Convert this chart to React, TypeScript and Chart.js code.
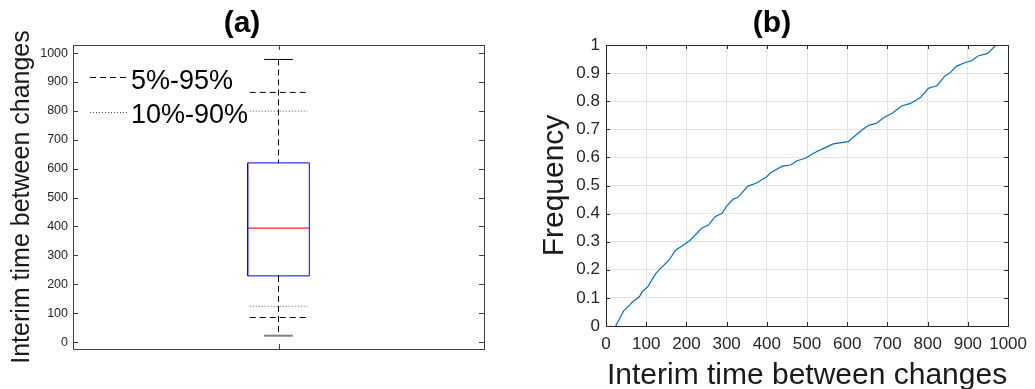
import React, { useEffect, useRef } from 'react';
import { Chart, registerables } from 'chart.js';

Chart.register(...registerables);

// ---------- data ----------
const boxCategories = [1];
const whiskerMin = [22];
const p5 = [85];
const p10 = [124];
const q1 = [229];
const median = [394];
const q3 = [620];
const p90 = [799];
const p95 = [864];
const whiskerMax = [978];

const leftYTicks = [0, 100, 200, 300, 400, 500, 600, 700, 800, 900, 1000];
const rightXTicks = [0, 100, 200, 300, 400, 500, 600, 700, 800, 900, 1000];
const rightYTicks = [0, 0.1, 0.2, 0.3, 0.4, 0.5, 0.6, 0.7, 0.8, 0.9, 1];

const cdfX = [24, 44, 55, 67, 83, 90, 104, 124, 140, 157, 173, 189, 210, 238, 255, 271, 289, 300, 316, 328, 353, 373, 398, 410, 439, 459, 475, 496, 516, 541, 565, 602, 627, 639, 655, 672, 692, 712, 735, 757, 782, 802, 823, 843, 855, 872, 892, 909, 925, 949, 970];
const cdfY = [0, 0.054, 0.069, 0.087, 0.104, 0.122, 0.14, 0.187, 0.211, 0.235, 0.27, 0.285, 0.306, 0.348, 0.359, 0.389, 0.401, 0.427, 0.451, 0.458, 0.498, 0.508, 0.529, 0.546, 0.569, 0.573, 0.588, 0.597, 0.615, 0.632, 0.648, 0.656, 0.686, 0.7, 0.715, 0.721, 0.743, 0.757, 0.783, 0.792, 0.813, 0.846, 0.855, 0.89, 0.9, 0.925, 0.937, 0.944, 0.961, 0.97, 1.0];

const legendLabels = ['5%-95%', '10%-90%'];
const panelTitles = ['(a)', '(b)'];
const leftYTitle = 'Interim time between changes';
const rightXTitle = 'Interim time between changes';
const rightYTitle = 'Frequency';

// ---------- styling ----------
const FONT = "'Liberation Sans', Arial, Helvetica, sans-serif";
const AXIS_COLOR = '#262626';
const BOX_HALF = 0.075;
const CAP_HALF = 0.035;
const PCT_HALF = 0.07;

Chart.defaults.font.family = FONT;

const plainLabel = (v: any) => String(v);

const frameTicks = (len: number, color: string) => ({
  id: 'frameTicks',
  afterDatasetsDraw(chart: any) {
    const { ctx, chartArea: a, scales } = chart;
    const xs = scales.x;
    const ys = scales.y;
    ctx.save();
    ctx.strokeStyle = color;
    ctx.lineWidth = 1;
    ctx.setLineDash([]);
    ctx.beginPath();
    ys.ticks.forEach((t: any) => {
      const y = Math.round(ys.getPixelForValue(t.value)) + 0.5;
      ctx.moveTo(a.left, y);
      ctx.lineTo(a.left + len, y);
      ctx.moveTo(a.right, y);
      ctx.lineTo(a.right - len, y);
    });
    xs.ticks.forEach((t: any) => {
      const x = Math.round(xs.getPixelForValue(t.value)) + 0.5;
      ctx.moveTo(x, a.bottom);
      ctx.lineTo(x, a.bottom - len);
      ctx.moveTo(x, a.top);
      ctx.lineTo(x, a.top + len);
    });
    ctx.stroke();
    ctx.strokeRect(Math.round(a.left) + 0.5, Math.round(a.top) + 0.5, Math.round(a.right - a.left), Math.round(a.bottom - a.top));
    ctx.restore();
  },
});

const legendPlugin = {
  id: 'pctLegend',
  afterDatasetsDraw(chart: any) {
    const { ctx, chartArea: a } = chart;
    const items = [
      { label: legendLabels[0], dash: [6, 4], color: '#000', ly: 32, ty: 44 },
      { label: legendLabels[1], dash: [1, 2], color: '#555', ly: 67, ty: 78 },
    ];
    ctx.save();
    items.forEach((it) => {
      ctx.strokeStyle = it.color;
      ctx.lineWidth = 1;
      ctx.setLineDash(it.dash);
      ctx.beginPath();
      ctx.moveTo(a.left + 17, a.top + it.ly + 0.5);
      ctx.lineTo(a.left + 55, a.top + it.ly + 0.5);
      ctx.stroke();
      ctx.setLineDash([]);
      ctx.fillStyle = '#000';
      ctx.font = `27px ${FONT}`;
      ctx.textAlign = 'left';
      ctx.textBaseline = 'alphabetic';
      ctx.fillText(it.label, a.left + 58, a.top + it.ty);
    });
    ctx.restore();
  },
};

function seg(y: number, half: number) {
  const c = boxCategories[0];
  return [{ x: c - half, y }, { x: c + half, y }];
}

function leftConfig(): any {
  const c = boxCategories[0];
  const base = { pointRadius: 0, borderWidth: 1, fill: false, tension: 0 };
  return {
    type: 'line',
    data: {
      datasets: [
        { ...base, data: [{ x: c, y: whiskerMax[0] }, { x: c, y: q3[0] }, { x: c, y: null }, { x: c, y: q1[0] }, { x: c, y: whiskerMin[0] }], borderColor: '#000', borderDash: [6, 4], spanGaps: false },
        { ...base, data: seg(whiskerMax[0], CAP_HALF), borderColor: '#000' },
        { ...base, data: seg(whiskerMin[0], CAP_HALF), borderColor: '#808080', borderWidth: 2 },
        { ...base, data: seg(p95[0], PCT_HALF), borderColor: '#000', borderDash: [6, 4] },
        { ...base, data: seg(p5[0], PCT_HALF), borderColor: '#000', borderDash: [6, 4] },
        { ...base, data: seg(p90[0], PCT_HALF), borderColor: '#555', borderDash: [1, 2] },
        { ...base, data: seg(p10[0], PCT_HALF), borderColor: '#555', borderDash: [1, 2] },
        { ...base, data: [{ x: c - BOX_HALF, y: q1[0] }, { x: c + BOX_HALF, y: q1[0] }, { x: c + BOX_HALF, y: q3[0] }, { x: c - BOX_HALF, y: q3[0] }, { x: c - BOX_HALF, y: q1[0] }], borderColor: '#0000ff' },
        { ...base, data: seg(median[0], BOX_HALF), borderColor: '#ff2020', borderWidth: 1.2 },
      ],
    },
    options: {
      animation: false,
      responsive: false,
      maintainAspectRatio: false,
      layout: { padding: { left: 0, right: 36, top: 0, bottom: 0 } },
      plugins: {
        legend: { display: false },
        tooltip: { enabled: false },
        title: { display: true, text: panelTitles[0], color: '#000', font: { family: FONT, size: 30, weight: 'bold' }, padding: { top: 6, bottom: 3 } },
      },
      scales: {
        x: {
          type: 'linear', min: 0.5, max: 1.5,
          grid: { display: false, drawTicks: false }, border: { display: false },
          ticks: { display: false },
          afterBuildTicks: (s: any) => { s.ticks = boxCategories.map((v) => ({ value: v })); },
          afterFit: (s: any) => { s.height = 40; },
        },
        y: {
          type: 'linear', min: -24, max: 1028,
          grid: { display: false, drawTicks: false }, border: { display: false },
          ticks: { color: AXIS_COLOR, padding: 5, autoSkip: false, callback: plainLabel, font: { family: FONT, size: 12.5 } },
          afterBuildTicks: (s: any) => { s.ticks = leftYTicks.map((v) => ({ value: v })); },
          title: { display: true, text: leftYTitle, color: '#1a1a1a', font: { family: FONT, size: 25 }, padding: { top: 7, bottom: 0 } },
          afterFit: (s: any) => { s.width = 73; },
        },
      },
    },
    plugins: [frameTicks(5, '#404040'), legendPlugin],
  };
}

function rightConfig(): any {
  return {
    type: 'line',
    data: {
      datasets: [
        { data: cdfX.map((x, i) => ({ x, y: cdfY[i] })), borderColor: '#0072bd', borderWidth: 1.2, pointRadius: 0, fill: false, tension: 0 },
      ],
    },
    options: {
      animation: false,
      responsive: false,
      maintainAspectRatio: false,
      layout: { padding: { left: 0, right: 21, top: 0, bottom: 0 } },
      plugins: {
        legend: { display: false },
        tooltip: { enabled: false },
        title: { display: true, text: panelTitles[1], color: '#000', font: { family: FONT, size: 30, weight: 'bold' }, padding: { top: 6, bottom: 3 } },
      },
      scales: {
        x: {
          type: 'linear', min: 0, max: 1000,
          grid: { display: true, color: '#e3e3e3', drawTicks: false }, border: { display: false },
          ticks: { color: AXIS_COLOR, padding: 8, maxRotation: 0, autoSkip: false, callback: plainLabel, font: { family: FONT, size: 17 } },
          afterBuildTicks: (s: any) => { s.ticks = rightXTicks.map((v) => ({ value: v })); },
          title: { display: true, text: rightXTitle, color: '#1a1a1a', font: { family: FONT, size: 30 }, padding: { top: 0, bottom: 6 } },
          afterFit: (s: any) => { s.height = 74; },
        },
        y: {
          type: 'linear', min: 0, max: 1,
          grid: { display: true, color: '#e3e3e3', drawTicks: false }, border: { display: false },
          ticks: { color: AXIS_COLOR, padding: 6, autoSkip: false, callback: plainLabel, font: { family: FONT, size: 17 } },
          afterBuildTicks: (s: any) => { s.ticks = rightYTicks.map((v) => ({ value: v })); },
          title: { display: true, text: rightYTitle, color: '#1a1a1a', font: { family: FONT, size: 30 }, padding: { top: 6.5, bottom: 0 } },
          afterFit: (s: any) => { s.width = 76; },
        },
      },
    },
    plugins: [frameTicks(4, '#262626')],
  };
}

export default function App() {
  const leftRef = useRef<HTMLCanvasElement>(null);
  const rightRef = useRef<HTMLCanvasElement>(null);
  useEffect(() => {
    const l = new Chart(leftRef.current as HTMLCanvasElement, leftConfig());
    const r = new Chart(rightRef.current as HTMLCanvasElement, rightConfig());
    return () => {
      l.destroy();
      r.destroy();
    };
  }, []);
  return (
    <div style={{ position: 'fixed', left: 0, top: 0, width: 1035, height: 389, overflow: 'hidden', background: '#fff' }}>
      <canvas ref={leftRef} width={520} height={389} style={{ position: 'absolute', left: 0, top: 0, width: 520, height: 389 }} />
      <canvas ref={rightRef} width={505} height={400} style={{ position: 'absolute', left: 530, top: 0, width: 505, height: 400 }} />
    </div>
  );
}
